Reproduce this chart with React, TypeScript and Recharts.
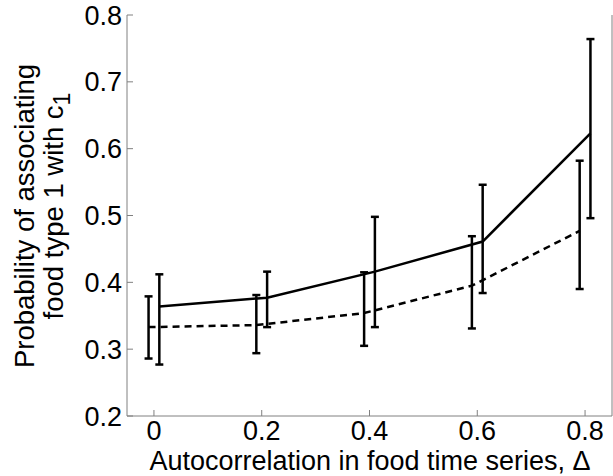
import { LineChart, Line, XAxis, YAxis, ErrorBar } from 'recharts';

// autocorrelation levels (each series is nudged sideways so the error bars don't overlap)
const solidX = [0.01, 0.21, 0.41, 0.61, 0.81];
const dashedX = [-0.01, 0.19, 0.39, 0.59, 0.79];

const solidMean = [0.364, 0.377, 0.416, 0.461, 0.623];
const solidLow = [0.277, 0.333, 0.333, 0.384, 0.496];
const solidHigh = [0.412, 0.416, 0.498, 0.546, 0.764];

const dashedMean = [0.333, 0.336, 0.354, 0.395, 0.477];
const dashedLow = [0.286, 0.294, 0.305, 0.331, 0.390];
const dashedHigh = [0.379, 0.381, 0.415, 0.469, 0.582];

const xTicks = [0, 0.2, 0.4, 0.6, 0.8];
const yTicks = [0.2, 0.3, 0.4, 0.5, 0.6, 0.7, 0.8];

const build = (xs: number[], mean: number[], low: number[], high: number[]) =>
  xs.map((x, i) => ({ x, y: mean[i], err: [mean[i] - low[i], high[i] - mean[i]] }));

const solidData = build(solidX, solidMean, solidLow, solidHigh);
const dashedData = build(dashedX, dashedMean, dashedLow, dashedHigh);

const FONT = '"Liberation Sans", Arial, sans-serif';
const BOX = '#808080';

const YLabel = () => (
  <g fontFamily={FONT} fontSize={27.5} fill="#000">
    <text transform="translate(34,216) rotate(-90)" textAnchor="middle">
      Probability of associating
    </text>
    <text transform="translate(63,206) rotate(-90)" textAnchor="middle">
      food type 1 with c<tspan dy={7} fontSize={23}>1</tspan>
    </text>
  </g>
);

const XLabel = () => (
  <text x={370} y={470} textAnchor="middle" fontFamily={FONT} fontSize={27} fill="#000">
    Autocorrelation in food time series, Δ
  </text>
);

export default function App() {
  return (
    <div style={{ position: 'absolute', left: 0, top: 0, background: '#fff' }}>
      <LineChart
        width={613}
        height={476}
        margin={{ top: 15, right: 0, bottom: 0, left: 0 }}
        style={{ fontFamily: FONT }}
      >
        <XAxis
          xAxisId="b"
          dataKey="x"
          type="number"
          domain={[-0.05, 0.85]}
          ticks={xTicks}
          tickFormatter={(v: number) => (v === 0 ? '0' : v.toFixed(1))}
          stroke={BOX}
          tickSize={-6}
          tickMargin={11}
          height={60}
          tick={{ fill: '#000', fontSize: 27 }}
          label={<XLabel />}
        />
        <XAxis
          xAxisId="t"
          orientation="top"
          type="number"
          dataKey="x"
          domain={[-0.05, 0.85]}
          ticks={xTicks}
          tickFormatter={() => ''}
          stroke={BOX}
          tickSize={-6}
          height={0}
        />
        <YAxis
          yAxisId="l"
          type="number"
          domain={[0.2, 0.8]}
          ticks={yTicks}
          tickFormatter={(v: number) => v.toFixed(1)}
          stroke={BOX}
          tickSize={-6}
          tickMargin={11}
          width={127}
          tick={{ fill: '#000', fontSize: 27 }}
          label={<YLabel />}
        />
        <YAxis
          yAxisId="r"
          orientation="right"
          type="number"
          domain={[0.2, 0.8]}
          ticks={yTicks}
          tickFormatter={() => ''}
          stroke={BOX}
          tickSize={-6}
          width={1}
        />
        <Line
          xAxisId="b"
          yAxisId="l"
          data={solidData}
          dataKey="y"
          type="linear"
          stroke="#000"
          strokeWidth={2.5}
          dot={false}
          isAnimationActive={false}
        >
          <ErrorBar dataKey="err" direction="y" width={4} stroke="#000" strokeWidth={2.5} isAnimationActive={false} />
        </Line>
        <Line
          xAxisId="b"
          yAxisId="l"
          data={dashedData}
          dataKey="y"
          type="linear"
          stroke="#000"
          strokeWidth={2.5}
          strokeDasharray="7 5"
          dot={false}
          isAnimationActive={false}
        >
          <ErrorBar dataKey="err" direction="y" width={4} stroke="#000" strokeWidth={2.5} isAnimationActive={false} />
        </Line>
      </LineChart>
    </div>
  );
}
